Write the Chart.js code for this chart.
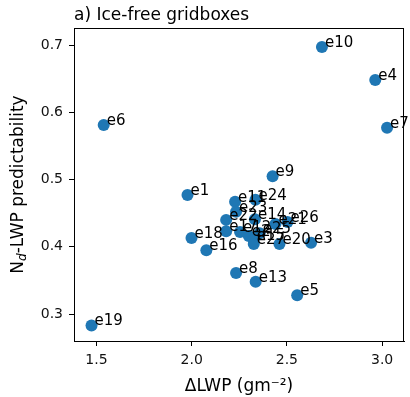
<!DOCTYPE html>
<html>
<head>
<meta charset="utf-8">
<script src="https://cdn.jsdelivr.net/npm/chart.js@4.4.1/dist/chart.umd.min.js"></script>
<style>
  html, body { margin: 0; padding: 0; background: #fff; }
  #chart { display: block; }
</style>
</head>
<body>
<canvas id="chart" width="410" height="397"></canvas>
<script>
// ensemble member names and their values
const names = ['e1', 'e2', 'e3', 'e4', 'e5', 'e6', 'e7', 'e8', 'e9', 'e10',
    'e11', 'e12', 'e13', 'e14', 'e15', 'e16', 'e17', 'e18', 'e19', 'e20',
    'e21', 'e22', 'e23', 'e24', 'e25', 'e26', 'e27'];
const lwpChange = [1.978, 2.300, 2.627, 2.964, 2.554, 1.538, 3.026, 2.233, 2.425, 2.684,
    2.228, 2.254, 2.336, 2.332, 2.326, 2.077, 2.181, 1.999, 1.474, 2.461,
    2.440, 2.181, 2.233, 2.335, 2.357, 2.503, 2.326];
const predictability = [0.477, 0.416, 0.406, 0.648, 0.328, 0.581, 0.577, 0.361, 0.505, 0.697,
    0.467, 0.422, 0.348, 0.441, 0.410, 0.395, 0.423, 0.413, 0.283, 0.404,
    0.434, 0.440, 0.452, 0.470, 0.420, 0.437, 0.404];

const xTickValues = [1.5, 2.0, 2.5, 3.0];
const yTickValues = [0.3, 0.4, 0.5, 0.6, 0.7];

const FONT = '"DejaVu Sans", sans-serif';

const points = names.map((n, i) => ({ x: lwpChange[i], y: predictability[i] }));

// title, y label with subscript, frame and point labels
const decorations = {
    id: 'decorations',
    afterDatasetsDraw(chart) {
        const ctx = chart.ctx;
        const area = chart.chartArea;
        ctx.save();

        // frame
        ctx.strokeStyle = '#000';
        ctx.lineWidth = 1;
        ctx.strokeRect(Math.round(area.left) + 0.5, Math.round(area.top) + 0.5,
            Math.round(area.right - area.left) - 1, Math.round(area.bottom - area.top));

        // point labels
        ctx.fillStyle = '#000';
        ctx.font = '15px ' + FONT;
        ctx.textAlign = 'left';
        ctx.textBaseline = 'alphabetic';
        const meta = chart.getDatasetMeta(0);
        meta.data.forEach((pt, i) => {
            ctx.fillText(names[i], pt.x + 3, pt.y);
        });

        // title
        ctx.font = '17px ' + FONT;
        ctx.fillText('a) Ice-free gridboxes', area.left, 20);

        // y axis title
        const cy = (area.top + area.bottom) / 2;
        ctx.translate(19, cy);
        ctx.rotate(-Math.PI / 2);
        ctx.font = '17px ' + FONT;
        const wN = ctx.measureText('N').width;
        ctx.font = 'italic 12px ' + FONT;
        const wd = ctx.measureText('d').width;
        ctx.font = '17px ' + FONT;
        const rest = '-LWP predictability';
        const wr = ctx.measureText(rest).width;
        let x0 = -(wN + wd + wr) / 2;
        ctx.textBaseline = 'middle';
        ctx.fillText('N', x0, 0);
        ctx.font = 'italic 12px ' + FONT;
        ctx.fillText('d', x0 + wN, 4);
        ctx.font = '17px ' + FONT;
        ctx.fillText(rest, x0 + wN + wd, 0);
        ctx.restore();
    }
};

new Chart(document.getElementById('chart'), {
    type: 'scatter',
    data: {
        datasets: [{
            data: points,
            backgroundColor: '#1f77b4',
            borderWidth: 0,
            pointRadius: 6,
            pointHoverRadius: 6
        }]
    },
    options: {
        responsive: false,
        animation: false,
        events: [],
        layout: { padding: { top: 28, right: 2, left: 0, bottom: 0 } },
        plugins: {
            legend: { display: false },
            tooltip: { enabled: false }
        },
        scales: {
            x: {
                type: 'linear',
                min: 1.382,
                max: 3.115,
                afterBuildTicks: (scale) => { scale.ticks = xTickValues.map(v => ({ value: v })); },
                afterFit: (scale) => { scale.height = 56; },
                ticks: {
                    color: '#111',
                    padding: 6,
                    maxRotation: 0,
                    font: { family: FONT, size: 14 },
                    callback: (v) => Number(v).toFixed(1)
                },
                grid: { drawOnChartArea: false, drawTicks: true, tickLength: 5, color: '#000' },
                border: { display: true, color: '#000', width: 1 },
                title: {
                    display: true,
                    text: 'ΔLWP (gm⁻²)',
                    color: '#000',
                    font: { family: FONT, size: 17 },
                    padding: { top: 0, bottom: 0 }
                }
            },
            y: {
                type: 'linear',
                min: 0.2599,
                max: 0.7253,
                afterBuildTicks: (scale) => { scale.ticks = yTickValues.map(v => ({ value: v })); },
                afterFit: (scale) => { scale.width = 74; },
                ticks: {
                    color: '#111',
                    padding: 6,
                    font: { family: FONT, size: 14 },
                    callback: (v) => Number(v).toFixed(1)
                },
                grid: { drawOnChartArea: false, drawTicks: true, tickLength: 5, color: '#000' },
                border: { display: true, color: '#000', width: 1 }
            }
        }
    },
    plugins: [decorations]
});
</script>
</body>
</html>
